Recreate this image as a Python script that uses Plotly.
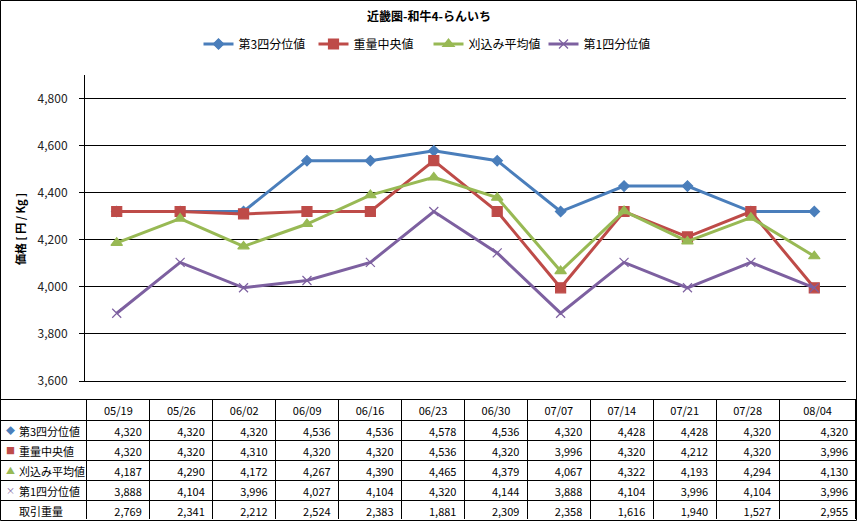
import plotly.graph_objects as go

W, H = 857, 521

dates = ["05/19", "05/26", "06/02", "06/09", "06/16", "06/23",
         "06/30", "07/07", "07/14", "07/21", "07/28", "08/04"]

q3 = [4320, 4320, 4320, 4536, 4536, 4578, 4536, 4320, 4428, 4428, 4320, 4320]
median = [4320, 4320, 4310, 4320, 4320, 4536, 4320, 3996, 4320, 4212, 4320, 3996]
mean = [4187, 4290, 4172, 4267, 4390, 4465, 4379, 4067, 4322, 4193, 4294, 4130]
q1 = [3888, 4104, 3996, 4027, 4104, 4320, 4144, 3888, 4104, 3996, 4104, 3996]
volume = [2769, 2341, 2212, 2524, 2383, 1881, 2309, 2358, 1616, 1940, 1527, 2955]

names = ["第3四分位値", "重量中央値", "刈込み平均値", "第1四分位値"]
colors = ["#4A7EBB", "#BE4B48", "#98B954", "#7D60A0"]
symbols = ["diamond", "square", "triangle-up", "x-thin"]
sizes = [8, 10, 10, 9]
glyphs = ["◆", "■", "▲", "×"]

font = "Noto Sans CJK JP, Liberation Sans, sans-serif"

# table geometry (px from top)
TABLE_TOP = 399
HEAD_H = 21
ROW_H = 20

fig = go.Figure()

for vals, name, c, sym, sz in zip([q3, median, mean, q1], names, colors, symbols, sizes):
    fig.add_trace(go.Scatter(
        x=dates, y=vals, name=name, mode="lines+markers",
        line=dict(color=c, width=3),
        marker=dict(symbol=sym, size=sz, color=c, line=dict(color=c, width=1.2)),
    ))

# data table under the chart
row_labels = ["\u3000" + n for n in names] + ["\u3000取引重量"]
cols = [row_labels]
for i in range(len(dates)):
    cols.append([f"{s[i]:,}" for s in (q3, median, mean, q1, volume)])

fig.add_trace(go.Table(
    domain=dict(x=[0.0, 856 / W], y=[1 / H, 1 - TABLE_TOP / H]),
    columnwidth=[87] + [63] * 11 + [77],
    header=dict(values=[""] + dates, align="center", height=HEAD_H,
                line=dict(color="black", width=1), fill=dict(color="white"),
                font=dict(family=font, size=11, color="black")),
    cells=dict(values=cols, align=["left"] + ["right"] * 12, height=ROW_H,
               line=dict(color="black", width=1), fill=dict(color="white"),
               font=dict(family=font, size=11, color="black")),
))

# coloured legend keys in front of the table row labels
key_notes = []
for i, (g, c) in enumerate(zip(glyphs, colors)):
    key_notes.append(dict(
        text=g, x=4 / W, y=1 - (TABLE_TOP + HEAD_H + ROW_H * i + ROW_H / 2) / H,
        xref="paper", yref="paper", showarrow=False, xanchor="left", yanchor="middle",
        font=dict(size=9, color=c)))

fig.update_layout(
    width=W, height=H,
    margin=dict(l=0, r=0, t=0, b=0, autoexpand=False),
    paper_bgcolor="white", plot_bgcolor="white",
    font=dict(family=font, size=11, color="black"),
    showlegend=True,
    legend=dict(orientation="h", x=0.5, xanchor="center", y=1 - 44 / H, yanchor="middle",
                font=dict(size=12), entrywidth=70, tracegroupgap=0),
    xaxis=dict(domain=[85 / W, 846 / W], type="category", range=[-0.5, 11.5],
               showticklabels=False, showgrid=False, showline=True,
               linecolor="black", linewidth=1, ticks="", automargin=False),
    yaxis=dict(domain=[1 - 381 / H, 1 - 75 / H], range=[3600, 4900],
               tick0=3600, dtick=200, tickformat=",",
               showgrid=True, gridcolor="black", gridwidth=1,
               showline=True, linecolor="black", linewidth=1,
               ticks="outside", ticklen=5, tickcolor="black", ticklabelstandoff=9,
               tickfont=dict(size=12, color="#222"), zeroline=False, automargin=False),
    annotations=[
        dict(text="<b>近畿圏-和牛4-らんいち</b>", x=0.5, y=1 - 16 / H, xref="paper", yref="paper",
             showarrow=False, font=dict(size=12), xanchor="center", yanchor="middle"),
        dict(text="<b>価格 [ 円 / Kg ]</b>", x=20 / W, y=1 - 229 / H, xref="paper", yref="paper",
             showarrow=False, textangle=-90, font=dict(size=11),
             xanchor="center", yanchor="middle"),
    ] + key_notes,
    shapes=[
        dict(type="rect", xref="paper", yref="paper", x0=0.5 / W, x1=1 - 0.5 / W,
             y0=0.5 / H, y1=1 - 0.5 / H, line=dict(color="black", width=1)),
    ],
)

fig.write_html("out.html", config={"displayModeBar": False},
               post_script="document.body.style.margin = '0';")
